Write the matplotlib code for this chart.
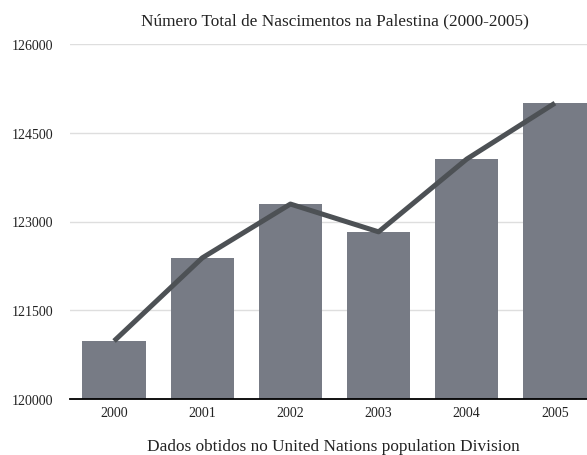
import matplotlib
matplotlib.use("Agg")
import matplotlib.pyplot as plt

years = ["2000", "2001", "2002", "2003", "2004", "2005"]
births = [120980, 122385, 123295, 122825, 124055, 125000]
yticks = [120000, 121500, 123000, 124500, 126000]

plt.rcParams['font.family'] = ['Liberation Serif', 'DejaVu Serif']

fig = plt.figure(figsize=(5.87, 4.56), dpi=100)
# plot area runs past the right edge of the image, as in the reference
ax = fig.add_axes([70/587, 56/456, 529/587, (400-45)/456])

x = list(range(len(years)))
ax.bar(x, births, width=0.72, color="#777b85", zorder=2)
ax.plot(x, births, color="#4d5155", linewidth=3.6, zorder=3, solid_capstyle="butt")

ax.set_ylim(120000, 126000)
ax.set_xlim(-0.5, 5.5)
ax.set_yticks(yticks)
ax.set_yticklabels([str(v) for v in yticks])
ax.set_xticks(x)
ax.set_xticklabels(years)
ax.yaxis.grid(True, color="#dedede", linewidth=1.0, zorder=0)
ax.set_axisbelow(True)
for s in ["top", "right", "left"]:
    ax.spines[s].set_visible(False)
ax.spines["bottom"].set_color("black")
ax.spines["bottom"].set_linewidth(1.3)
ax.spines["bottom"].set_zorder(4)
ax.tick_params(axis="both", length=0, labelsize=10, colors="#222222")
ax.tick_params(axis="y", pad=12)
ax.tick_params(axis="x", pad=5)

fig.text(335/587, 1 - 21/456, "Número Total de Nascimentos na Palestina (2000-2005)",
         ha="center", va="center", fontsize=12.4, color="#222222")
fig.text(333/587, 1 - 447/456, "Dados obtidos no United Nations population Division",
         ha="center", va="center", fontsize=12.4, color="#222222")

fig.savefig("out.png", dpi=100)
